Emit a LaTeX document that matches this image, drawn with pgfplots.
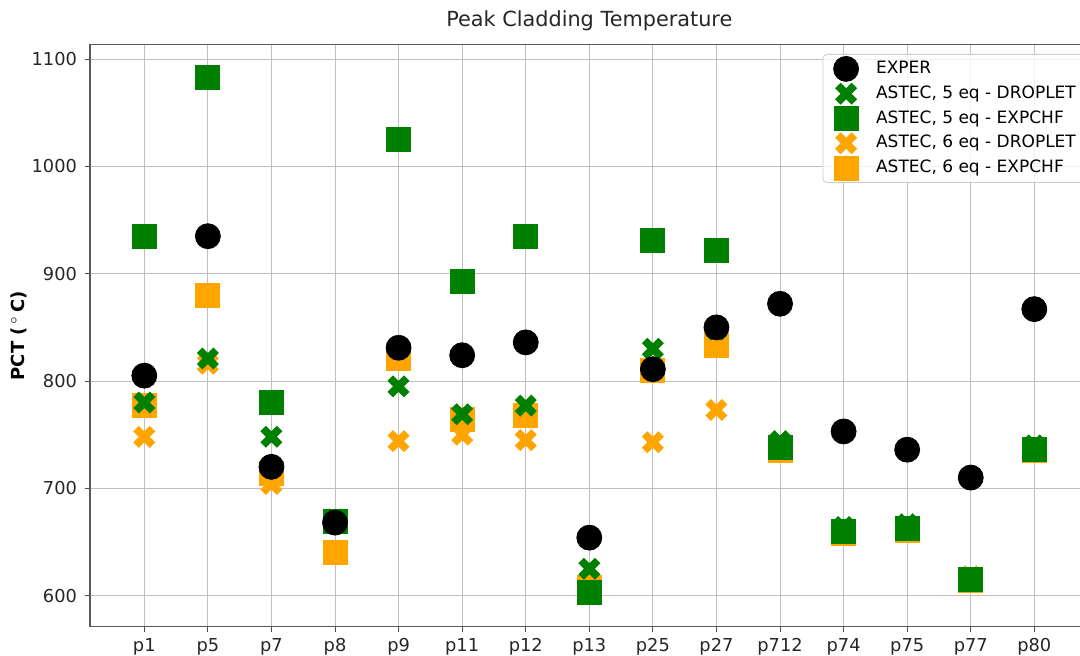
\documentclass[border=0pt]{standalone}
\usepackage{fontspec}
\setmainfont{DejaVu Sans}
\usepackage{pgfplots}
\pgfplotsset{compat=1.18}
\definecolor{mplgreen}{HTML}{008000}
\definecolor{mplorange}{HTML}{FFA500}
\pgfdeclareplotmark{fatx}{%
  \pgfpathmoveto{\pgfpoint{-0.5\pgfplotmarksize}{-1\pgfplotmarksize}}%
  \pgfpathlineto{\pgfpoint{0\pgfplotmarksize}{-0.5\pgfplotmarksize}}%
  \pgfpathlineto{\pgfpoint{0.5\pgfplotmarksize}{-1\pgfplotmarksize}}%
  \pgfpathlineto{\pgfpoint{1\pgfplotmarksize}{-0.5\pgfplotmarksize}}%
  \pgfpathlineto{\pgfpoint{0.5\pgfplotmarksize}{0\pgfplotmarksize}}%
  \pgfpathlineto{\pgfpoint{1\pgfplotmarksize}{0.5\pgfplotmarksize}}%
  \pgfpathlineto{\pgfpoint{0.5\pgfplotmarksize}{1\pgfplotmarksize}}%
  \pgfpathlineto{\pgfpoint{0\pgfplotmarksize}{0.5\pgfplotmarksize}}%
  \pgfpathlineto{\pgfpoint{-0.5\pgfplotmarksize}{1\pgfplotmarksize}}%
  \pgfpathlineto{\pgfpoint{-1\pgfplotmarksize}{0.5\pgfplotmarksize}}%
  \pgfpathlineto{\pgfpoint{-0.5\pgfplotmarksize}{0\pgfplotmarksize}}%
  \pgfpathlineto{\pgfpoint{-1\pgfplotmarksize}{-0.5\pgfplotmarksize}}%
  \pgfpathclose\pgfusepathqfill}
\begin{document}
\begin{tikzpicture}
\useasboundingbox (0,0) rectangle (540pt,328pt);
\clip (0,0) rectangle (540pt,328pt);
\begin{axis}[
  at={(45pt,14.65pt)}, anchor=south west,
  scale only axis, width=499.3pt, height=291pt,
  xmin=-0.854, xmax=14.854, ymin=571, ymax=1113.5,
  xtick={0,...,14},
  xticklabels={p1,p5,p7,p8,p9,p11,p12,p13,p25,p27,p712,p74,p75,p77,p80},
  ytick={600,700,800,900,1000,1100},
  yticklabels={600,700,800,900,1000,1100},
  tick pos=left, tick align=outside, major tick length=2.5pt,
  tick style={black!70, line width=0.5pt},
  tick label style={font=\fontsize{8.9}{10}\selectfont, text=black!85},
  xticklabel style={yshift=0.3pt},
  yticklabel style={xshift=-0.5pt},
  /pgf/number format/assume math mode=true,
  grid=major, grid style={color=black!25, line width=0.5pt},
  axis line style={black!65, line width=0.6pt},
  title={Peak Cladding Temperature},
  every axis title/.style={font=\fontsize{10.4}{12}\selectfont, at={(axis description cs:0.5,1)}, anchor=center, yshift=11.9pt, text=black!85},
  ylabel={\textbf{PCT (\,$^\circ$\,C)}},
  ylabel style={font=\fontsize{9}{11}\selectfont, at={(axis description cs:-0.0711,0.5)}, anchor=center, rotate=0},
  reverse legend,
  legend style={at={(axis description cs:0.7337,0.984)}, anchor=north west,
    draw=black!20, rounded corners=2pt, fill=white, fill opacity=0.8, text opacity=1,
    font=\fontsize{8.5}{10}\selectfont, inner xsep=5.5pt, inner ysep=3.3pt,
    row sep=4.5pt,
    nodes={inner sep=0pt, text height=6.3pt, text depth=1.6pt, anchor=west}},
  legend cell align=left,
  legend image code/.code={%
    \pgfpathrectangle{\pgfpoint{-6pt}{-3pt}}{\pgfpoint{21pt}{6pt}}\pgfusepath{use as bounding box}%
    \begin{pgfinterruptboundingbox}
    \draw[#1, fill opacity=1, draw opacity=1, only marks] plot coordinates {(0pt,0pt)};
    \end{pgfinterruptboundingbox}},
]
% 6 eq EXPCHF
\addplot[only marks, mark=square*, mark size=6pt, color=mplorange, fill=mplorange] coordinates {
(0,777) (1,880) (2,714) (3,640) (4,821) (5,764) (6,768) (7,608) (8,810) (9,833) (10,735.5) (11,658) (12,661) (13,614) (14,735)};
\addlegendentry{ASTEC, 6 eq - EXPCHF}
% 6 eq DROPLET
\addplot[only marks, mark=fatx, mark size=5.5pt, color=mplorange, fill=mplorange] coordinates {
(0,748) (1,816) (2,704) (3,668) (4,744) (5,750) (6,745) (7,610) (8,743) (9,773) (10,736) (11,658) (12,661) (13,618) (14,735)};
\addlegendentry{ASTEC, 6 eq - DROPLET}
% 5 eq EXPCHF
\addplot[only marks, mark=square*, mark size=6pt, color=mplgreen, fill=mplgreen] coordinates {
(0,935) (1,1083) (2,780) (3,669) (4,1025) (5,893) (6,935) (7,603) (8,931) (9,922) (10,738.5) (11,660) (12,663) (13,615) (14,736.5)};
\addlegendentry{ASTEC, 5 eq - EXPCHF}
% 5 eq DROPLET
\addplot[only marks, mark=fatx, mark size=5.5pt, color=mplgreen, fill=mplgreen] coordinates {
(0,780) (1,821) (2,748) (3,671) (4,795) (5,769) (6,777) (7,625) (8,830) (9,848) (10,744) (11,664) (12,666.5) (13,616) (14,740)};
\addlegendentry{ASTEC, 5 eq - DROPLET}
% EXPER
\addplot[only marks, mark=*, mark size=6.25pt, color=black, fill=black] coordinates {
(0,805) (1,935) (2,720) (3,668) (4,831) (5,824) (6,836) (7,654) (8,811) (9,850) (10,872) (11,753) (12,736) (13,710) (14,867)};
\addlegendentry{EXPER}
\end{axis}
\end{tikzpicture}
\end{document}
